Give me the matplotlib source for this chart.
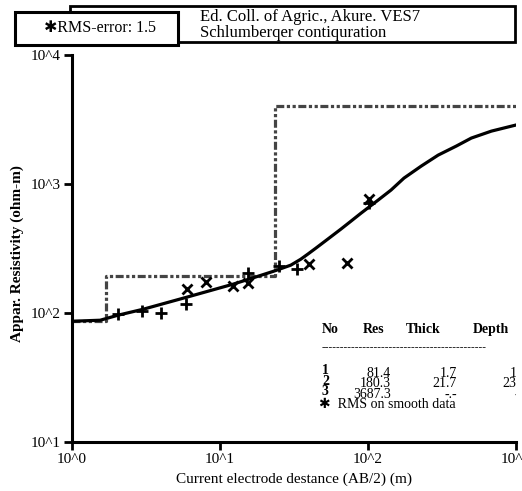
import numpy as np
import matplotlib
matplotlib.use("Agg")
import matplotlib.pyplot as plt
from matplotlib.patches import Rectangle

plt.rcParams['font.family'] = ['Liberation Serif', 'DejaVu Sans']

# field data, two symbol sets
plus_x = [2.05, 2.98, 4.0, 5.93, 15.4, 24.9, 33.0, 101]
plus_y = [98, 103, 99.5, 117, 204, 231, 219, 711]
cross_x = [6.0, 8.1, 12.2, 15.4, 39.8, 72, 101]
cross_y = [153, 173, 161, 170, 239, 243, 764]

# calculated curve
curve_x = [1, 1.55, 2.05, 3.03, 6.02, 12.2, 17.4, 23.1, 30.1, 35.1, 39.2, 44.4,
           53.5, 65.6, 76.7, 89.7, 117, 143, 175, 229, 298, 395, 499, 682, 1000]
curve_y = [86.3, 87.9, 96.2, 107, 133, 167, 190, 211, 235, 261, 286, 318,
           374, 447, 515, 594, 750, 897, 1111, 1377, 1675, 1968, 2270, 2570, 2866]

# layered model (as drawn)
layer_res = [86, 193, 4000]
layer_depth = [1.7, 23.4]

# table
tab_no = ["1", "2", "3"]
tab_res = ["81.4", "180.3", "3687.3"]
tab_thick = ["1.7", "21.7", "-.-"]
tab_depth = ["1.7", "23.4", "-.-"]

W, H = 522, 491
fig = plt.figure(figsize=(W / 100, H / 100), dpi=100)
ax = fig.add_axes([72 / W, 1 - 442 / H, 444 / W, 387 / H])

ax.set_xscale('log')
ax.set_yscale('log')
ax.set_xlim(1, 1000)
ax.set_ylim(10, 10000)

# step model
sx = [1, layer_depth[0], layer_depth[0], layer_depth[1], layer_depth[1], 1000]
sy = [layer_res[0], layer_res[0], layer_res[1], layer_res[1], layer_res[2], layer_res[2]]
ax.plot(sx, sy, color='#444444', lw=2.3, ls=(0, (2.5, 0.8, 1, 0.8, 1, 0.8)), zorder=2)

ax.plot(curve_x, curve_y, color='black', lw=2.3, zorder=3, solid_joinstyle='round')
ax.plot(plus_x, plus_y, ls='none', marker='+', ms=9, mew=2, color='black', zorder=4)
ax.plot(cross_x, cross_y, ls='none', marker='x', ms=7, mew=2, color='black', zorder=4)

for s in ['top', 'right']:
    ax.spines[s].set_visible(False)
for s in ['left', 'bottom']:
    ax.spines[s].set_linewidth(2.2)

ax.set_xticks([1, 10, 100, 1000])
ax.set_xticklabels(["10^0", "10^1", "10^2", "10^3"])
ax.set_yticks([10, 100, 1000, 10000])
ax.set_yticklabels(["10^1", "10^2", "10^3", "10^4"])
ax.minorticks_off()
ax.tick_params(axis='both', direction='out', length=6, width=2, labelsize=11, pad=2)

ax.set_xlabel("Current electrode destance (AB/2) (m)", fontsize=11)
ax.set_ylabel("Appar. Resistivity (ohm-m)", fontsize=11, fontweight='bold')
ax.xaxis.set_label_coords(0.5, -0.078)
ax.yaxis.set_label_coords(-0.108, 0.488)

# table text, in axes fraction from pixel positions (baselines)
def fx(px):
    return (px - 72) / 444

def fy(py):
    return (442 - py) / 387

ts = 10
kw = dict(fontsize=ts, va='baseline', transform=ax.transAxes)
ax.text(fx(322), fy(333), "No", ha='left', fontweight='bold', **kw)
ax.text(fx(363), fy(333), "Res", ha='left', fontweight='bold', **kw)
ax.text(fx(406), fy(333), "Thick", ha='left', fontweight='bold', **kw)
ax.text(fx(473), fy(333), "Depth", ha='left', fontweight='bold', **kw)
ax.text(fx(322), fy(350), "-" * 44, fontsize=8, va='baseline', ha='left', transform=ax.transAxes)

no_base = [374, 385, 395]
val_base = [377, 387, 398]
for i in range(3):
    ax.text(fx(322), fy(no_base[i]), tab_no[i], ha='left', fontweight='bold', **kw)
    ax.text(fx(391), fy(val_base[i]), tab_res[i], ha='right', **kw)
    ax.text(fx(457), fy(val_base[i]), tab_thick[i], ha='right', **kw)
    ax.text(fx(527), fy(val_base[i]), tab_depth[i], ha='right', clip_on=True, **kw)
ax.text(fx(319), fy(408), "\u2731  RMS on smooth data", ha='left', **kw)

# header boxes
box2 = Rectangle((70 / W, 1 - 42 / H), 445 / W, 36 / H, transform=fig.transFigure,
                 facecolor='white', edgecolor='black', lw=2, zorder=5)
fig.patches.append(box2)
fig.text(200 / W, 1 - 17 / H, "Ed. Coll. of Agric., Akure. VES7", fontsize=12, va='center', ha='left', zorder=6)
fig.text(200 / W, 1 - 33 / H, "Schlumberqer contiquration", fontsize=12, va='center', ha='left', zorder=6)
box1 = Rectangle((15 / W, 1 - 45 / H), 163 / W, 33 / H, transform=fig.transFigure,
                 facecolor='white', edgecolor='black', lw=2.2, zorder=7)
fig.patches.append(box1)
fig.text(100 / W, 1 - 28 / H, "\u2731RMS-error: 1.5", fontsize=11.5, va='center', ha='center', zorder=8)

fig.savefig("out.png", dpi=100)
